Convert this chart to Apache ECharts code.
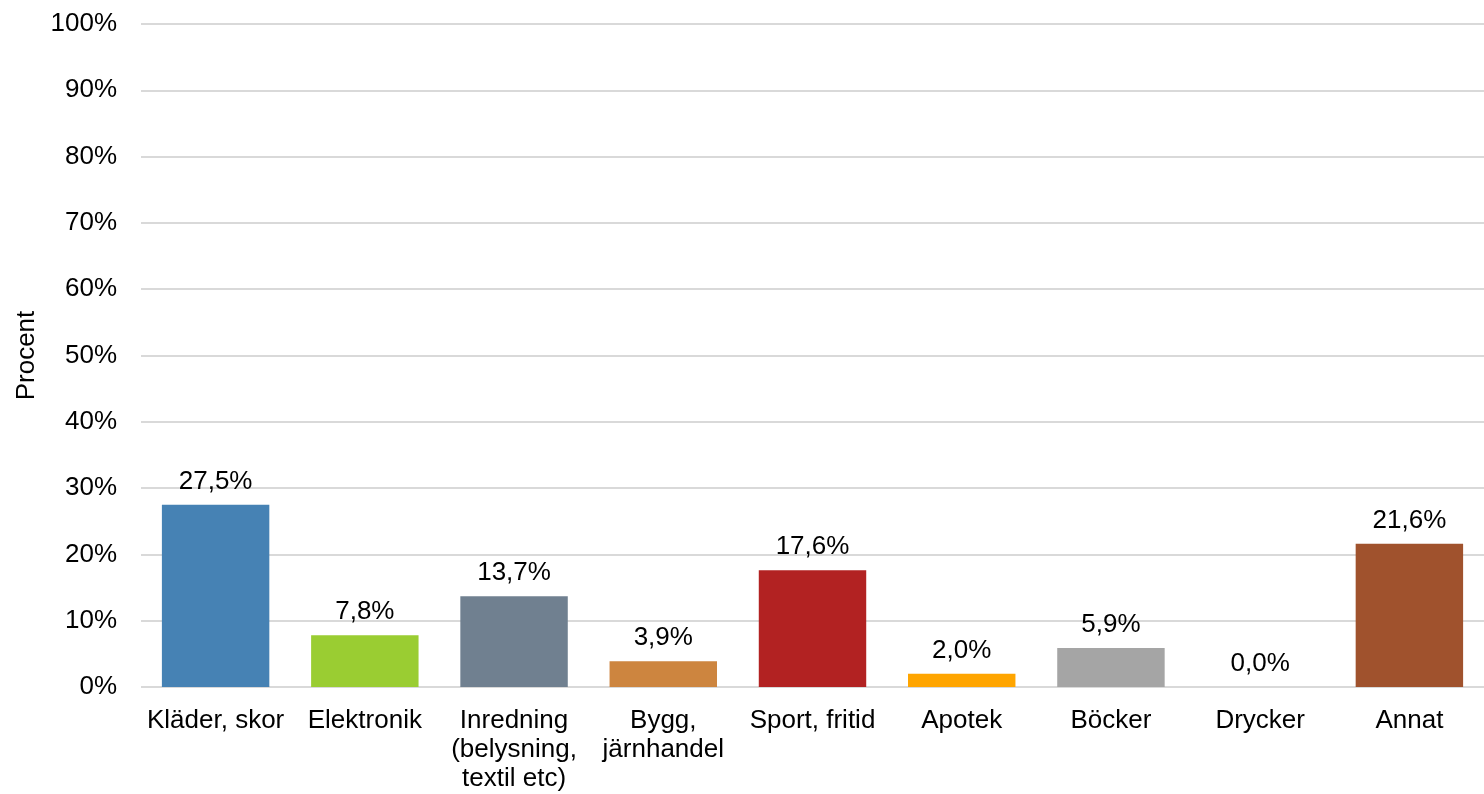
<!DOCTYPE html>
<html>
<head>
<meta charset="utf-8">
<script src="https://cdn.jsdelivr.net/npm/echarts@6/dist/echarts.min.js"></script>
<style>
  html, body { margin: 0; padding: 0; background: #fff; }
  #chart { width: 1484px; height: 794px; }
</style>
</head>
<body>
<div id="chart"></div>
<script>
// categories and values
const categories = ['Kläder, skor', 'Elektronik', 'Inredning\n(belysning,\ntextil etc)', 'Bygg,\njärnhandel',
  'Sport, fritid', 'Apotek', 'Böcker', 'Drycker', 'Annat'];
const values = [27.5, 7.8, 13.7, 3.9, 17.6, 2.0, 5.9, 0.0, 21.6];
const barColors = ['#4682B4', '#9ACD32', '#708090', '#CD853F', '#B22222', '#FFA500', '#A5A5A5', '#6B8E23', '#A0522D'];
const yTicks = [0, 10, 20, 30, 40, 50, 60, 70, 80, 90, 100];

const chart = echarts.init(document.getElementById('chart'));
const font = 'Liberation Sans, Arial, sans-serif';

chart.setOption({
  animation: false,
  grid: { left: 141, right: 0, top: 24, bottom: 107 },
  xAxis: {
    type: 'category',
    data: categories,
    axisLine: { show: false },
    axisTick: { show: false },
    axisLabel: {
      interval: 0,
      margin: 19,
      color: '#000',
      fontFamily: font,
      fontSize: 26,
      lineHeight: 29
    }
  },
  yAxis: {
    type: 'value',
    min: yTicks[0],
    max: yTicks[yTicks.length - 1],
    interval: 10,
    name: 'Procent',
    nameLocation: 'middle',
    nameGap: 100,
    nameTextStyle: { color: '#000', fontFamily: font, fontSize: 26 },
    axisLine: { show: false },
    axisTick: { show: false },
    axisLabel: {
      margin: 24,
      color: '#000',
      fontFamily: font,
      fontSize: 26,
      formatter: v => v + '%'
    },
    splitLine: { lineStyle: { color: '#D9D9D9', width: 2 } }
  },
  series: [{
    type: 'bar',
    barCategoryGap: '28%',
    data: values.map((v, i) => ({ value: v, itemStyle: { color: barColors[i] } })),
    label: {
      show: true,
      position: 'top',
      distance: 10,
      color: '#000',
      fontFamily: font,
      fontSize: 26,
      formatter: p => p.value.toFixed(1).replace('.', ',') + '%'
    }
  }]
});
</script>
</body>
</html>
